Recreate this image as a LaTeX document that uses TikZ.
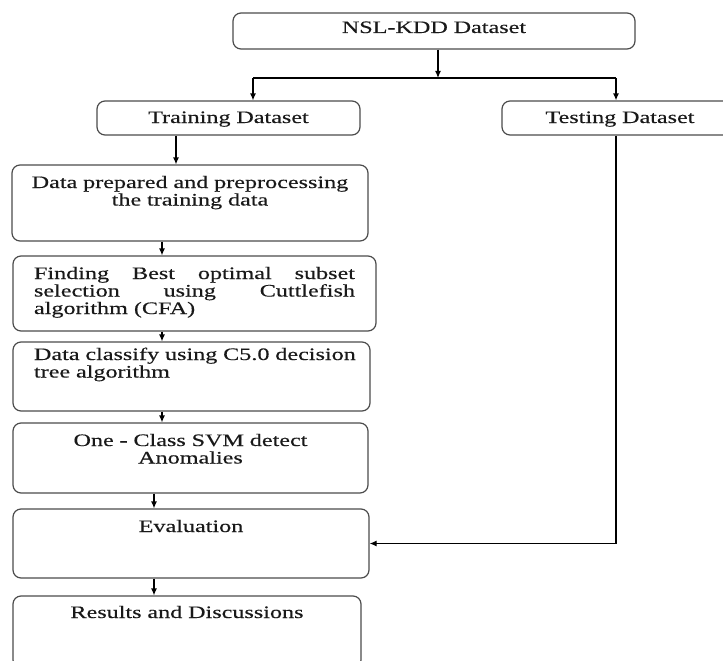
\documentclass[tikz,border=0pt]{standalone}
\usepackage{fontspec}
\usetikzlibrary{arrows.meta}
\newfontfamily\stagefamily{Liberation Serif}[FakeStretch=1.38,FakeBold=0.35]
\newcommand\stagefont{\stagefamily\fontsize{17.5}{17.5}\selectfont\hyphenpenalty=10000}
\tikzset{
  stage/.style={draw=black!70,line width=1.2pt,rounded corners=8pt,inner sep=0pt,align=center,font=\stagefont,text=black!90,anchor=base},
  flow/.style={line width=1.2pt,->},
}
\begin{document}
\begin{tikzpicture}[x=1pt,y=-1pt,>={Latex[length=7pt,width=6pt]}]
        \useasboundingbox (0,0) rectangle (723,661);
        \clip (0,0) rectangle (723,661);
        %% Datasets
        \node[stage,text width=402pt,text height=20pt,text depth=16pt] (nsl) at (434,33) {NSL-KDD Dataset};
        \node[stage,text width=263pt,text height=22pt,text depth=12pt] (train) at (228.5,123) {Training Dataset};
        \node[stage,text width=236pt,text height=22pt,text depth=12pt] (test) at (620,123) {Testing Dataset};
        %% Split
        \coordinate (split) at (438,78);
        \coordinate (splitL) at (253,78);
        \coordinate (splitR) at (616,78);
        \draw[flow] (nsl.south -| split) -- (split);
        \draw[line width=1.2pt] (splitL) -- (splitR);
        \draw[flow] (splitL) -- (splitL |- train.north);
        \draw[flow] (splitR) -- (splitR |- test.north);
        %% Training chain
        \node[stage,text width=356pt,text height=23pt,text depth=53pt] (prep) at (190,188) {Data prepared and preprocessing\\the training data};
        \node[stage,inner xsep=21pt,text width=321pt,text height=23pt,text depth=52pt,align=justify] (find) at (194.5,279) {Finding Best optimal subset\linebreak selection using Cuttlefish\linebreak algorithm (CFA)};
        \node[stage,inner xsep=21pt,text width=315pt,text height=18pt,text depth=51pt,align=left] (cls) at (191.5,360) {\mbox{Data classify using C5.0 decision}\\tree algorithm};
        \node[stage,text width=355pt,text height=23pt,text depth=47pt] (svm) at (190.5,446) {One - Class SVM detect\\Anomalies};
        \node[stage,text width=356pt,text height=23pt,text depth=46pt] (eval) at (191,532) {Evaluation};
        \node[stage,text width=348pt,text height=22pt,text depth=50pt] (res) at (187,618) {Results and Discussions};
        %% Arrows
        \draw[flow] ([xshift=-52.5pt]train.south) coordinate (a0) -- (a0 |- prep.north);
        \draw[flow] ([xshift=-28pt]prep.south) coordinate (a1) -- (a1 |- find.north);
        \draw[flow] ([xshift=-32.5pt]find.south) coordinate (a2) -- (a2 |- cls.north);
        \draw[flow] ([xshift=-29.5pt]cls.south) coordinate (a3) -- (a3 |- svm.north);
        \draw[flow] ([xshift=-36.5pt]svm.south) coordinate (a4) -- (a4 |- eval.north);
        \draw[flow] ([xshift=-37pt]eval.south) coordinate (a5) -- (a5 |- res.north);
        %% Testing to evaluation
        \draw[flow] ([xshift=-4pt]test.south) |- (eval.east);
\end{tikzpicture}
\end{document}
